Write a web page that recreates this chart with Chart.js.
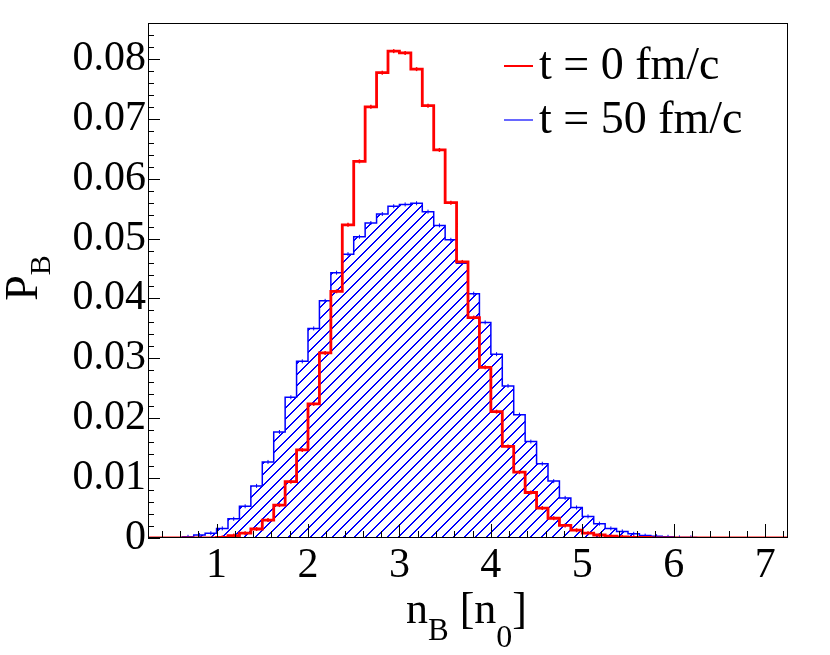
<!DOCTYPE html>
<html>
<head>
<meta charset="utf-8">
<title>P_B vs n_B</title>
<script src="https://cdn.jsdelivr.net/npm/chart.js@4.4.1/dist/chart.umd.min.js"></script>
<style>
    html, body { margin: 0; padding: 0; background: #fff; }
    #wrap { width: 830px; height: 655px; position: relative; }
</style>
</head>
<body>
<div id="wrap"><canvas id="myChart"></canvas></div>
<script>
(function () {
    "use strict";

    // left edges of the n_B bins (width 0.125 n0)
    const binEdges = [
        0.25, 0.375, 0.5, 0.625, 0.75, 0.875, 1, 1.125, 1.25, 1.375, 1.5, 1.625, 1.75, 1.875,
        2, 2.125, 2.25, 2.375, 2.5, 2.625, 2.75, 2.875, 3, 3.125, 3.25, 3.375, 3.5, 3.625, 3.75, 3.875,
        4, 4.125, 4.25, 4.375, 4.5, 4.625, 4.75, 4.875, 5, 5.125, 5.25, 5.375, 5.5, 5.625, 5.75, 5.875,
        6, 6.125, 6.25, 6.375, 6.5, 6.625, 6.75, 6.875, 7, 7.125
    ];
    const binWidth = 0.125;

    // t = 0 fm/c
    const probT0 = [
        0, 0, 0, 0, 0, 0, 0.0001, 0.0004, 0.0008, 0.0015, 0.0030, 0.0055, 0.0094, 0.0147,
        0.0224, 0.0309, 0.0412, 0.0523, 0.0629, 0.0720, 0.0777, 0.0813, 0.0810, 0.0783, 0.0722, 0.0648, 0.0560, 0.0461, 0.0368, 0.0285,
        0.0211, 0.0153, 0.0110, 0.0076, 0.0050, 0.0033, 0.0021, 0.0013, 0.0008, 0.0005, 0.0003, 0.0002, 0.0001, 0.0001, 0, 0,
        0, 0, 0, 0, 0, 0, 0, 0, 0, 0
    ];

    // t = 50 fm/c
    const probT50 = [
        0, 0, 0, 0.0002, 0.0005, 0.0008, 0.0016, 0.0032, 0.0053, 0.0087, 0.0127, 0.0177, 0.0235, 0.0295,
        0.0350, 0.0396, 0.0443, 0.0474, 0.0503, 0.0526, 0.0541, 0.0554, 0.0557, 0.0559, 0.0545, 0.0522, 0.0498, 0.0459, 0.0408, 0.0360,
        0.0307, 0.0254, 0.0206, 0.0161, 0.0124, 0.0095, 0.0067, 0.0051, 0.0036, 0.0024, 0.0016, 0.0011, 0.0007, 0.0004, 0.0003, 0.0002,
        0.0001, 0.0001, 0, 0, 0, 0, 0, 0, 0, 0
    ];

    const seriesLabels = ['t = 0 fm/c', 't = 50 fm/c'];
    const xTickValues = [1, 2, 3, 4, 5, 6, 7];
    const yTickValues = [0, 0.01, 0.02, 0.03, 0.04, 0.05, 0.06, 0.07, 0.08];
    const xRange = [0.25, 7.25];
    const yRange = [0, 0.086];

    const FONT = "'Liberation Serif', 'Times New Roman', serif";
    const RED = '#ff0000';
    const BLUE = '#0000ff';

    // step outline: one point per bin edge, closing at the upper edge
    function stepPoints(values) {
        let pts = binEdges.map((x, i) => ({ x: x, y: values[i] }));
        pts.push({ x: binEdges[binEdges.length - 1] + binWidth, y: 0 });
        return pts;
    }

    // small error marks at bin centres
    function centrePoints(values) {
        return binEdges
            .map((x, i) => ({ x: x + binWidth / 2, y: values[i] }))
            .filter(p => p.y > 0);
    }

    // ROOT-like "/" hatching, drawn pixel by pixel so it stays crisp
    function hatchPattern(color) {
        let s = 11;
        let c = document.createElement('canvas');
        c.width = s;
        c.height = s;
        let g = c.getContext('2d');
        g.fillStyle = color;
        for (let i = 0; i < s; i++) {
            g.fillRect(i, s - 1 - i, 1, 1);
            g.fillRect(i, (2 * s - i) % s, 1, 1);
        }
        return g.createPattern(c, 'repeat');
    }

    // draw text with a subscript; returns the x after the drawn text
    function drawSub(ctx, x, y, base, sub, baseSize, subSize, drop) {
        ctx.font = baseSize + 'px ' + FONT;
        ctx.fillText(base, x, y);
        x += ctx.measureText(base).width;
        if (sub) {
            ctx.font = subSize + 'px ' + FONT;
            ctx.fillText(sub, x, y + drop);
            x += ctx.measureText(sub).width;
        }
        return x;
    }

    const frameAndText = {
        id: 'frameAndText',
        afterDraw(chart) {
            const ctx = chart.ctx;
            const a = chart.chartArea;
            const xs = chart.scales.x;
            const ys = chart.scales.y;
            ctx.save();

            // frame
            ctx.strokeStyle = '#000';
            ctx.lineWidth = 1;
            ctx.strokeRect(a.left + 0.5, a.top + 0.5, a.right - a.left - 1, a.bottom - a.top - 1);

            // inside ticks
            ctx.beginPath();
            for (let k = Math.ceil(xRange[0] / 0.2); k * 0.2 <= xRange[1]; k++) {
                let v = k * 0.2;
                let px = Math.round(xs.getPixelForValue(v)) + 0.5;
                let major = Math.abs(v - Math.round(v)) < 1e-6;
                ctx.moveTo(px, a.bottom);
                ctx.lineTo(px, a.bottom - (major ? 14 : 7));
            }
            for (let k = 0; k * 0.002 <= yRange[1] + 1e-9; k++) {
                let v = k * 0.002;
                let py = Math.round(ys.getPixelForValue(v)) + 0.5;
                let major = k % 5 === 0;
                ctx.moveTo(a.left, py);
                ctx.lineTo(a.left + (major ? 12 : 6), py);
            }
            ctx.stroke();

            // legend
            const colors = [RED, BLUE];
            const widths = [2, 1.2];
            ctx.fillStyle = '#000';
            ctx.textBaseline = 'middle';
            ctx.textAlign = 'left';
            seriesLabels.forEach((lab, i) => {
                let ly = 66 + i * 54;
                ctx.strokeStyle = colors[i];
                ctx.lineWidth = widths[i];
                ctx.beginPath();
                ctx.moveTo(504, ly);
                ctx.lineTo(533, ly);
                ctx.stroke();
                ctx.font = '46px ' + FONT;
                ctx.fillText(lab, 539, ly + 1);
            });

            // x title: n_B [n_0]
            ctx.textBaseline = 'alphabetic';
            ctx.fillStyle = '#000';
            let xc = (a.left + a.right) / 2;
            let x0 = xc - 62;
            let x1 = drawSub(ctx, x0, 623, 'n', 'B', 44, 31, 17);
            x1 = drawSub(ctx, x1, 623, ' [n', '0', 44, 32, 24);
            drawSub(ctx, x1, 623, ']', '', 44, 32, 0);

            // y title: P_B (rotated)
            ctx.translate(37, 278);
            ctx.rotate(-Math.PI / 2);
            ctx.font = '46px ' + FONT;
            let w = ctx.measureText('P').width;
            ctx.font = '30px ' + FONT;
            w += ctx.measureText('B').width;
            drawSub(ctx, -w / 2, 0, 'P', 'B', 46, 30, 13);

            ctx.restore();
        }
    };

    const ctx = document.getElementById('myChart').getContext('2d');
    const chart = new Chart(ctx, {
        type: 'line',
        data: {
            datasets: [
                {
                    label: seriesLabels[0],
                    data: stepPoints(probT0),
                    stepped: 'before',
                    borderColor: RED,
                    borderWidth: 2.8,
                    pointRadius: 0,
                    fill: false
                },
                {
                    label: seriesLabels[1],
                    data: stepPoints(probT50),
                    stepped: 'before',
                    borderColor: BLUE,
                    borderWidth: 1.5,
                    backgroundColor: hatchPattern(BLUE),
                    pointRadius: 0,
                    fill: 'origin'
                },
                {
                    label: 'err0',
                    data: centrePoints(probT0),
                    showLine: false,
                    pointStyle: 'line',
                    rotation: 90,
                    pointRadius: 2,
                    pointBorderWidth: 1.5,
                    pointBorderColor: RED
                },
                {
                    label: 'err50',
                    data: centrePoints(probT50),
                    showLine: false,
                    pointStyle: 'line',
                    rotation: 90,
                    pointRadius: 2,
                    pointBorderWidth: 1,
                    pointBorderColor: BLUE
                }
            ]
        },
        options: {
            responsive: true,
            maintainAspectRatio: false,
            animation: false,
            events: [],
            layout: { padding: { top: 15, right: 42, left: 0, bottom: 0 } },
            plugins: {
                legend: { display: false },
                tooltip: { enabled: false }
            },
            scales: {
                x: {
                    type: 'linear',
                    min: xRange[0],
                    max: xRange[1],
                    grid: { display: false, drawTicks: false },
                    border: { display: false },
                    ticks: {
                        color: '#000',
                        padding: 7,
                        maxRotation: 0,
                        font: { family: FONT, size: 42, lineHeight: 1 }
                    },
                    afterBuildTicks: function (scale) {
                        scale.ticks = xTickValues.map(v => ({ value: v }));
                    },
                    afterFit: function (scale) {
                        scale.height = 117;
                    }
                },
                y: {
                    min: yRange[0],
                    max: yRange[1],
                    grid: { display: false, drawTicks: false },
                    border: { display: false },
                    ticks: {
                        color: '#000',
                        padding: 2,
                        font: { family: FONT, size: 42, lineHeight: 1 },
                        callback: function (v) {
                            return v === 0 ? '0' : v.toFixed(2);
                        }
                    },
                    afterBuildTicks: function (scale) {
                        scale.ticks = yTickValues.map(v => ({ value: v }));
                    },
                    afterFit: function (scale) {
                        scale.width = 148;
                    }
                }
            }
        },
        plugins: [frameAndText]
    });
})();
</script>
</body>
</html>
